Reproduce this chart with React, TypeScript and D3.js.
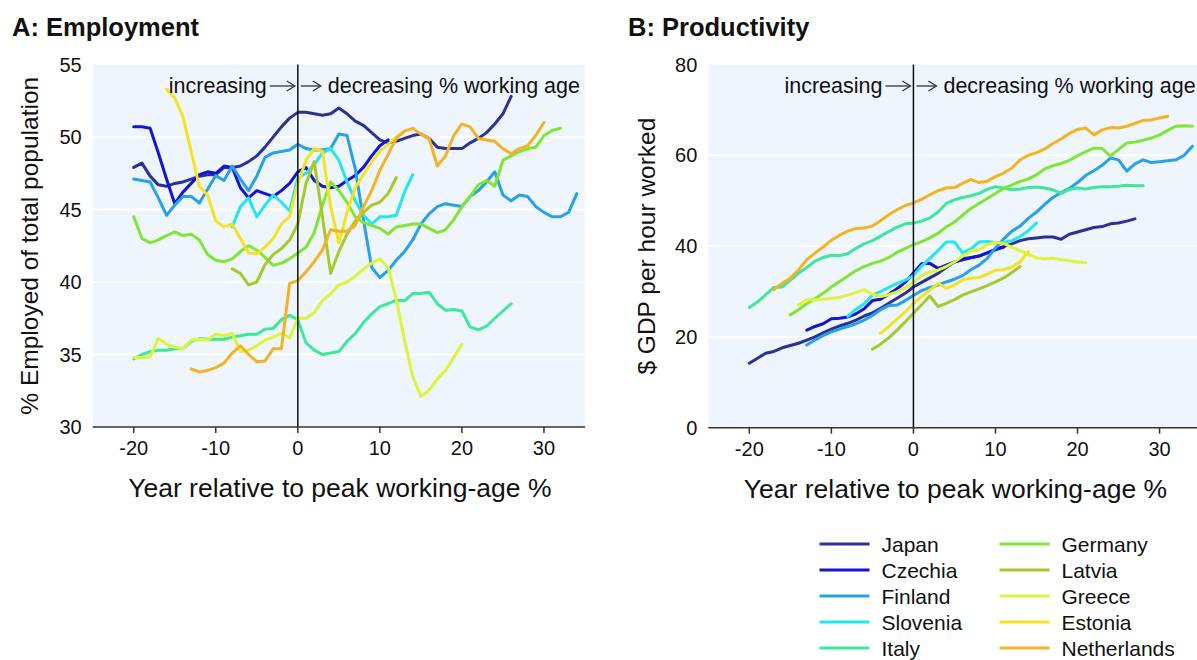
import React from 'react';
import * as d3 from 'd3';

const countries = ['Japan', 'Czechia', 'Finland', 'Slovenia', 'Italy', 'Germany', 'Latvia', 'Greece', 'Estonia', 'Netherlands'];
const colors = ['#2b3294', '#1414d4', '#27a2e8', '#22e6f0', '#3de89a', '#80e634', '#a8c92a', '#dcf43a', '#f5e322', '#f2b424'];

const yearTicks = [-20, -10, 0, 10, 20, 30];
const empTicks = [30, 35, 40, 45, 50, 55];
const prodTicks = [0, 20, 40, 60, 80];

// Panel A: employment (% of total population), first year of each series
const empStart = [-20, -20, -20, -8, -20, -20, -8, -20, -16, -13];
const empJapan = [47.9, 48.2, 47.3, 46.7, 46.6, 46.8, 46.9, 47.1, 47.3, 47.4, 47.4, 47.9, 47.9, 48.0, 48.3, 48.7, 49.3, 50.0, 50.7, 51.3, 51.7, 51.7, 51.6, 51.5, 51.6, 52.0, 51.6, 51.1, 50.8, 50.3, 49.8, 49.6, 49.7, 49.9, 50.1, 50.2, 49.9, 49.3, 49.2, 49.2, 49.2, 49.6, 49.9, 50.3, 50.9, 51.6, 52.8];
const empCzechia = [50.7, 50.7, 50.6, 48.9, 47.1, 45.4, 46.2, 46.8, 47.4, 47.6, 47.5, 48.0, 47.9, 46.5, 45.8, 46.3, 46.1, 45.9, 46.3, 46.8, 47.6, 47.9, 47.0, 46.6, 46.5, 46.6, 47.0, 47.35, 47.9, 48.7, 49.4, 49.8];
const empFinland = [47.1, 47.0, 46.9, 45.8, 44.6, 45.3, 45.9, 45.9, 45.45, 46.4, 47.35, 47.0, 48.0, 47.1, 46.3, 47.3, 48.6, 48.9, 49.0, 49.1, 49.5, 49.2, 49.1, 49.1, 49.2, 50.2, 50.1, 47.8, 44.3, 41.0, 40.3, 40.8, 41.5, 42.1, 42.9, 44.0, 44.7, 45.2, 45.4, 45.3, 45.2, 45.9, 46.3, 46.9, 47.6, 46.0, 45.6, 46.0, 45.9, 45.2, 44.8, 44.5, 44.5, 44.8, 46.1];
const empSlovenia = [43.8, 45.2, 45.8, 44.5, 45.3, 46.0, 45.5, 44.9, 47.2, 47.5, 48.1, 48.9, 49.2, 48.4, 46.9, 45.6, 44.6, 44.0, 44.5, 44.5, 44.6, 46.2, 47.4];
const empItaly = [34.7, 35.0, 35.2, 35.3, 35.3, 35.4, 35.4, 35.9, 36.1, 36.05, 36.05, 36.05, 36.2, 36.3, 36.4, 36.4, 36.75, 36.8, 37.4, 37.7, 37.4, 35.8, 35.3, 35.0, 35.1, 35.2, 35.9, 36.45, 37.2, 37.8, 38.3, 38.5, 38.75, 38.7, 39.2, 39.2, 39.3, 38.5, 38.05, 38.1, 38.0, 36.9, 36.7, 36.95, 37.5, 38.0, 38.5];
const empGermany = [44.5, 43.0, 42.7, 42.9, 43.2, 43.45, 43.2, 43.3, 42.9, 41.9, 41.5, 41.4, 41.6, 42.1, 42.5, 42.2, 41.7, 41.15, 41.3, 41.6, 42.0, 42.4, 43.4, 45.3, 46.9, 46.3, 45.5, 44.5, 44.1, 43.9, 43.7, 43.3, 43.8, 43.9, 44.0, 44.0, 43.7, 43.4, 43.6, 44.3, 45.2, 45.9, 46.7, 47.0, 46.6, 48.4, 48.7, 49.0, 49.2, 49.3, 50.1, 50.45, 50.6];
const empLatvia = [40.9, 40.6, 39.8, 40.0, 41.2, 41.9, 42.3, 42.9, 44.0, 46.8, 48.3, 44.5, 40.6, 42.1, 43.3, 44.2, 44.8, 45.3, 45.5, 46.1, 47.2];
const empGreece = [34.8, 34.8, 34.85, 36.1, 35.7, 35.5, 35.4, 36.0, 36.05, 36.0, 36.4, 36.3, 36.45, 35.2, 35.3, 35.6, 36.0, 36.2, 36.45, 36.15, 37.5, 37.5, 37.9, 38.7, 39.2, 39.8, 40.0, 40.4, 40.9, 41.3, 41.6, 41.0, 38.8, 36.0, 33.5, 32.1, 32.55, 33.3, 33.9, 34.8, 35.7];
const empEstonia = [53.3, 52.7, 51.4, 49.0, 46.6, 46.0, 44.2, 43.8, 44.0, 43.0, 42.0, 41.95, 42.4, 43.0, 44.0, 44.5, 46.8, 48.4, 49.2, 49.0, 45.2, 42.7, 44.8, 46.5, 47.4, 48.3, 49.0, 49.5, 50.0, 50.4];
const empNetherlands = [34.0, 33.8, 33.9, 34.1, 34.4, 35.1, 35.6, 35.0, 34.5, 34.55, 35.4, 35.4, 39.9, 40.1, 40.7, 41.4, 42.2, 43.6, 43.5, 43.5, 43.9, 45.2, 46.3, 47.7, 48.8, 49.9, 50.4, 50.6, 50.2, 49.9, 48.0, 48.7, 50.1, 50.9, 50.7, 49.9, 49.8, 49.7, 49.2, 48.85, 49.2, 49.4, 50.1, 51.0];

// Panel B: productivity ($ GDP per hour worked), first year of each series
const prodStart = [-20, -13, -13, -8, -20, -15, -5, -14, -4, -17];
const prodJapan = [14.2, 15.3, 16.4, 16.8, 17.6, 18.1, 18.6, 19.3, 20.0, 20.9, 21.7, 22.4, 23.0, 23.7, 24.6, 25.3, 26.3, 27.4, 28.5, 29.6, 31.0, 32.0, 33.0, 34.0, 35.3, 36.5, 37.2, 37.5, 37.8, 38.5, 39.3, 39.9, 40.5, 41.2, 41.6, 41.8, 42.0, 42.0, 41.5, 42.6, 43.1, 43.6, 44.1, 44.3, 44.9, 45.1, 45.5, 46.0];
const prodCzechia = [21.5, 22.3, 22.9, 24.0, 24.1, 24.4, 25.1, 26.2, 28.0, 28.3, 29.4, 30.6, 32.0, 34.1, 36.1, 36.2, 35.1, 35.8, 36.5, 37.0, 37.4, 37.8, 38.5, 39.2, 39.8];
const prodFinland = [18.2, 19.3, 20.3, 21.1, 21.7, 22.3, 22.9, 23.7, 24.7, 26.0, 26.9, 27.0, 28.0, 29.1, 30.2, 30.9, 31.4, 32.1, 32.7, 33.5, 34.8, 35.8, 37.3, 39.6, 41.6, 43.3, 44.4, 46.1, 47.5, 49.2, 50.7, 51.8, 52.7, 54.0, 55.6, 56.6, 57.8, 59.4, 59.0, 56.5, 58.1, 59.0, 58.4, 58.6, 58.8, 59.0, 60.0, 62.0];
const prodSlovenia = [24.5, 26.1, 27.3, 29.2, 30.0, 30.9, 31.8, 32.5, 33.5, 35.6, 37.3, 39.0, 40.9, 40.9, 38.5, 39.4, 40.9, 41.0, 40.8, 40.8, 41.2, 42.1, 43.4, 45.1];
const prodItaly = [26.5, 27.7, 29.3, 30.9, 31.0, 32.5, 34.0, 35.3, 36.7, 37.5, 38.0, 37.9, 38.3, 39.5, 40.5, 41.2, 42.2, 43.2, 44.2, 44.9, 45.1, 45.5, 46.2, 47.5, 49.4, 50.2, 50.7, 51.1, 51.6, 52.5, 53.1, 52.8, 52.4, 52.6, 52.9, 53.0, 52.8, 52.4, 51.6, 52.5, 52.8, 52.6, 52.9, 53.1, 53.1, 53.2, 53.4, 53.3, 53.3];
const prodGermany = [24.85, 26.0, 27.3, 28.4, 29.6, 31.0, 32.2, 33.4, 34.6, 35.5, 36.2, 36.7, 37.5, 38.6, 39.5, 40.3, 41.0, 41.8, 42.8, 44.2, 45.3, 46.8, 48.3, 49.4, 50.5, 51.6, 52.7, 53.5, 54.2, 54.8, 55.7, 57.0, 57.7, 58.2, 58.9, 59.9, 60.8, 61.6, 61.5, 59.8, 61.3, 62.7, 62.9, 63.3, 63.8, 64.5, 65.5, 66.4, 66.5, 66.4];
const prodLatvia = [17.3, 18.4, 19.8, 21.5, 23.3, 25.2, 27.1, 29.0, 26.7, 27.4, 28.2, 29.2, 29.9, 30.6, 31.3, 32.1, 33.0, 34.2, 35.5];
const prodGreece = [27.0, 28.2, 28.2, 28.3, 28.5, 28.7, 29.2, 29.8, 30.4, 29.4, 28.9, 29.3, 29.9, 30.8, 32.0, 33.5, 34.3, 34.7, 35.5, 36.5, 37.8, 38.9, 39.2, 40.3, 40.8, 40.6, 39.7, 39.0, 38.2, 37.4, 37.2, 37.35, 37.0, 36.8, 36.5, 36.4];
const prodEstonia = [20.8, 22.3, 23.9, 25.5, 27.4, 28.9, 30.3, 31.8, 30.7, 31.4, 32.6, 33.0, 33.1, 33.8, 34.7, 34.8, 35.4, 36.5, 38.8];
const prodNetherlands = [30.4, 31.8, 32.9, 34.8, 37.0, 38.45, 39.8, 41.3, 42.4, 43.3, 43.9, 44.0, 44.4, 45.6, 46.9, 48.0, 48.9, 49.5, 50.3, 51.3, 52.2, 52.8, 52.9, 53.8, 54.7, 54.0, 54.3, 55.3, 56.1, 57.2, 59.0, 60.0, 60.6, 61.4, 62.6, 63.6, 64.8, 65.7, 66.0, 64.5, 65.6, 66.1, 66.0, 66.4, 67.0, 67.7, 67.8, 68.2, 68.6];

const empValues = [empJapan, empCzechia, empFinland, empSlovenia, empItaly, empGermany, empLatvia, empGreece, empEstonia, empNetherlands];
const prodValues = [prodJapan, prodCzechia, prodFinland, prodSlovenia, prodItaly, prodGermany, prodLatvia, prodGreece, prodEstonia, prodNetherlands];

const FONT = '"Liberation Sans", Arial, Helvetica, sans-serif';
const BG = '#eef5fc';

type Pt = [number, number];

function toSeries(values: number[][], starts: number[]): Pt[][] {
  return values.map((vals, i) => vals.map((v, k) => [starts[i] + k, v] as Pt));
}

function Arrow({ x1, x2, y }: { x1: number; x2: number; y: number }) {
  return (
    <g stroke="#333" strokeWidth={1.3} fill="none">
      <line x1={x1} y1={y} x2={x2} y2={y} />
      <polyline points={`${x2 - 8},${y - 5} ${x2},${y} ${x2 - 8},${y + 5}`} />
    </g>
  );
}

function Panel({
  title, titleX, yLabel, yLabelX, x0, x1, yTop, yBottom, yDomain, yTicks, series,
}: {
  title: string; titleX: number; yLabel: string; yLabelX: number; x0: number; x1: number;
  yTop: number; yBottom: number; yDomain: [number, number]; yTicks: number[]; series: Pt[][];
}) {
  const x = d3.scaleLinear().domain([-25, 35]).range([x0, x1]);
  const y = d3.scaleLinear().domain(yDomain).range([yBottom, yTop]);
  const line = d3.line<Pt>().x((d) => x(d[0])).y((d) => y(d[1]));
  const xz = x(0);
  const annY = 86;
  const clipId = `clip-${titleX}`;
  return (
    <g fontFamily={FONT}>
      <defs>
        <clipPath id={clipId}>
          <rect x={x0} y={yTop} width={x1 - x0} height={yBottom - yTop} />
        </clipPath>
      </defs>
      <text x={titleX} y={36} fontSize={25.5} fontWeight="bold" fill="#111">{title}</text>
      <rect x={x0} y={yTop} width={x1 - x0} height={yBottom - yTop} fill={BG} />
      {yTicks.filter((t) => t !== yDomain[0] && t !== yDomain[1]).map((t) => (
        <line key={t} x1={x0} x2={x1} y1={y(t)} y2={y(t)} stroke="#fff" strokeWidth={2} />
      ))}
      <g clipPath={`url(#${clipId})`}>
        {series.map((s, i) => (
          <path key={countries[i]} d={line(s) || ''} fill="none" stroke={colors[i]} strokeWidth={3} strokeLinejoin="round" strokeLinecap="round" />
        ))}
      </g>
      <line x1={xz} x2={xz} y1={yTop} y2={yBottom} stroke="#111" strokeWidth={1.5} />
      <text x={xz - 31} y={annY + 7} fontSize={21.5} textAnchor="end" fill="#111">increasing</text>
      <Arrow x1={xz - 28} x2={xz - 3} y={annY} />
      <Arrow x1={xz + 3} x2={xz + 23} y={annY} />
      <text x={xz + 30} y={annY + 7} fontSize={21.5} fill="#111">decreasing % working age</text>
      <line x1={x0} x2={x1} y1={yBottom} y2={yBottom} stroke="#333" strokeWidth={1.5} />
      {yearTicks.map((t) => (
        <g key={t}>
          <line x1={x(t)} x2={x(t)} y1={yBottom} y2={yBottom + 6} stroke="#333" strokeWidth={1.5} />
          <text x={x(t)} y={yBottom + 28} fontSize={20} textAnchor="middle" fill="#111">{t}</text>
        </g>
      ))}
      {yTicks.map((t) => (
        <text key={t} x={x0 - 11} y={y(t) + 7} fontSize={20} textAnchor="end" fill="#111">{t}</text>
      ))}
      <text transform={`translate(${yLabelX},${(yTop + yBottom) / 2}) rotate(-90)`} fontSize={24.5} textAnchor="middle" fill="#111">{yLabel}</text>
      <text x={x(0) + 42} y={yBottom + 70} fontSize={26.5} textAnchor="middle" fill="#111">Year relative to peak working-age %</text>
    </g>
  );
}

export default function App() {
  const emp = toSeries(empValues, empStart);
  const prod = toSeries(prodValues, prodStart);
  const legendRows = [544, 570, 596, 622, 648];
  return (
    <svg width={1197} height={660} style={{ position: 'absolute', left: 0, top: 0, background: '#fff' }}>
      <Panel title="A: Employment" titleX={12} yLabel="% Employed of total population" yLabelX={38}
        x0={92.7} x1={585} yTop={64.5} yBottom={427} yDomain={[30, 55]} yTicks={empTicks} series={emp} />
      <Panel title="B: Productivity" titleX={628} yLabel="$ GDP per hour worked" yLabelX={655}
        x0={708.3} x1={1200.6} yTop={64.5} yBottom={427.7} yDomain={[0, 80]} yTicks={prodTicks} series={prod} />
      <g fontFamily={FONT}>
        {countries.map((c, i) => {
          const col = i < 5 ? 0 : 1;
          const row = i % 5;
          const lx = col === 0 ? 819.5 : 999.5;
          const ly = legendRows[row];
          return (
            <g key={c}>
              <line x1={lx} x2={lx + 50} y1={ly} y2={ly} stroke={colors[i]} strokeWidth={3} />
              <text x={lx + 62} y={ly + 7.5} fontSize={21} fill="#111">{c}</text>
            </g>
          );
        })}
      </g>
    </svg>
  );
}
